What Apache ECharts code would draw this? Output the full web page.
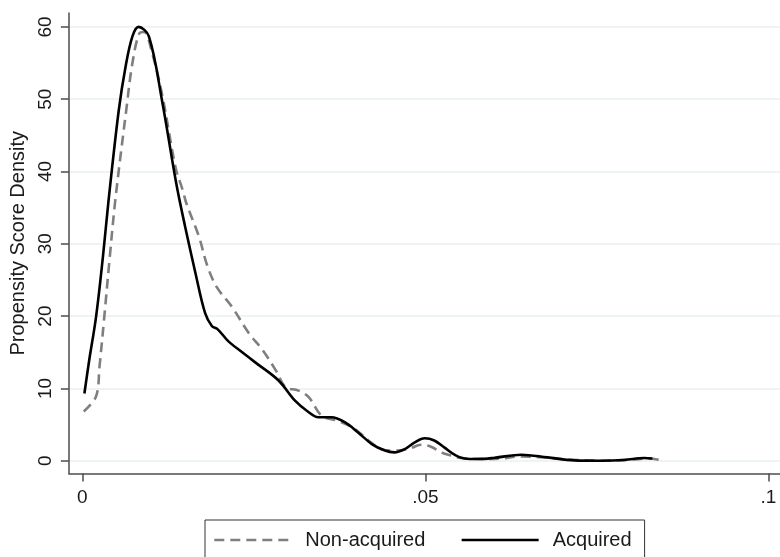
<!DOCTYPE html>
<html>
<head>
<meta charset="utf-8">
<script src="https://cdn.jsdelivr.net/npm/echarts@6/dist/echarts.min.js"></script>
<style>
html,body{margin:0;padding:0;background:#fff;}
#chart{width:780px;height:557px;}
</style>
</head>
<body>
<div id="chart"></div>
<script>
// Non-acquired (dashed) density
const nonAcqX = [0.0002, 0.0020, 0.0025, 0.0032, 0.0040, 0.0048, 0.0064, 0.0073, 0.0083, 0.0090, 0.0102, 0.0117, 0.0136, 0.0146, 0.0152, 0.0170, 0.0182, 0.0196, 0.0218, 0.0243, 0.0262, 0.0282, 0.0296, 0.0315, 0.0330, 0.0349, 0.0373, 0.0397, 0.0417, 0.0436, 0.0455, 0.0475, 0.0494, 0.0509, 0.0523, 0.0538, 0.0552, 0.0580, 0.0610, 0.0640, 0.0680, 0.0720, 0.0760, 0.0800, 0.0825, 0.0845];
const nonAcqY = [6.8, 8.9, 13.0, 19.9, 28.2, 36.0, 48.5, 55.0, 59.1, 59.3, 56.3, 50.3, 40.5, 37.5, 35.5, 31.0, 27.0, 24.0, 21.3, 17.6, 15.4, 12.5, 10.2, 9.7, 8.8, 6.2, 5.5, 4.4, 2.8, 1.6, 1.4, 1.6, 2.2, 1.9, 1.15, 0.7, 0.37, 0.25, 0.3, 0.6, 0.4, 0.1, 0.0, 0.15, 0.3, 0.05];

// Acquired (solid) density
const acqX = [0.0003, 0.0010, 0.0020, 0.0030, 0.0038, 0.0053, 0.0063, 0.0073, 0.0082, 0.0097, 0.0116, 0.0137, 0.0150, 0.0165, 0.0179, 0.0189, 0.0197, 0.0213, 0.0233, 0.0252, 0.0286, 0.0310, 0.0330, 0.0344, 0.0363, 0.0383, 0.0402, 0.0422, 0.0441, 0.0455, 0.0470, 0.0484, 0.0499, 0.0513, 0.0528, 0.0543, 0.0557, 0.0577, 0.0601, 0.0640, 0.0678, 0.0717, 0.0756, 0.0790, 0.0819, 0.0831];
const acqY = [9.3, 13.9, 19.9, 28.2, 35.8, 48.4, 54.5, 58.7, 60.0, 58.7, 49.9, 38.3, 32.3, 25.9, 20.4, 18.6, 18.2, 16.5, 15.0, 13.6, 11.1, 8.3, 6.7, 6.0, 6.0, 5.3, 3.9, 2.3, 1.4, 1.15, 1.6, 2.5, 3.1, 2.8, 1.8, 0.8, 0.3, 0.23, 0.4, 0.83, 0.46, 0.05, 0.0, 0.1, 0.37, 0.3];

const xTicks = [0, 0.05, 0.1];
const xTickLabels = ['0', '.05', '.1'];
const yTicks = [0, 10, 20, 30, 40, 50, 60];

const seriesNames = ['Non-acquired', 'Acquired'];
const yTitle = 'Propensity Score Density';

const pairs = (xs, ys) => xs.map((x, i) => [x, ys[i]]);
const FONT = 'Liberation Sans, Arial, sans-serif';

const chart = echarts.init(document.getElementById('chart'), null, {renderer: 'canvas'});
chart.setOption({
  animation: false,
  backgroundColor: '#ffffff',
  textStyle: {fontFamily: FONT},
  grid: {left: 66, right: 0, top: 13, bottom: 83.5, containLabel: false},
  xAxis: {
    type: 'value',
    min: -0.00196,
    max: 0.1017,
    axisLine: {show: true, onZero: false, lineStyle: {color: '#4d4d4d', width: 1.5}},
    axisTick: {show: true, length: 8, customValues: xTicks, lineStyle: {color: '#4d4d4d', width: 1.5}},
    axisLabel: {
      customValues: xTicks,
      formatter: v => xTickLabels[xTicks.indexOf(v)] !== undefined ? xTickLabels[xTicks.indexOf(v)] : '',
      fontSize: 19, color: '#1a1a1a', margin: 15, fontFamily: FONT
    },
    splitLine: {show: false}
  },
  yAxis: {
    type: 'value',
    min: -1.77,
    max: 61.92,
    name: yTitle,
    nameLocation: 'middle',
    nameGap: 38,
    nameTextStyle: {fontSize: 20, color: '#1a1a1a', fontFamily: FONT},
    axisLine: {show: true, onZero: false, lineStyle: {color: '#4d4d4d', width: 1.5}},
    axisTick: {show: true, length: 8, customValues: yTicks, lineStyle: {color: '#4d4d4d', width: 1.5}},
    axisLabel: {customValues: yTicks, rotate: 90, fontSize: 19, color: '#1a1a1a', margin: 14, fontFamily: FONT},
    splitLine: {show: true, lineStyle: {color: '#e8f1f2', width: 1.5}}
  },
  legend: {
    data: seriesNames,
    left: 205,
    top: 520,
    orient: 'horizontal',
    padding: [10, 13, 20, 8],
    itemWidth: 77,
    itemHeight: 14,
    itemGap: 35,
    borderColor: '#333333',
    borderWidth: 1,
    backgroundColor: '#ffffff',
    itemStyle: {color: 'rgba(0,0,0,0)', borderColor: 'rgba(0,0,0,0)', borderWidth: 0, opacity: 0},
    lineStyle: {width: 2.6},
    textStyle: {fontSize: 20, color: '#1a1a1a', fontFamily: FONT, padding: [0, 0, 0, 9]}
  },
  series: [
    {
      name: seriesNames[0],
      type: 'line',
      data: pairs(nonAcqX, nonAcqY),
      showSymbol: false,
      symbol: 'none',
      smooth: 0.35,
      lineStyle: {color: '#7f7f7f', width: 2.6, type: [10, 6]},
      itemStyle: {color: '#7f7f7f'},
      z: 2
    },
    {
      name: seriesNames[1],
      type: 'line',
      data: pairs(acqX, acqY),
      showSymbol: false,
      symbol: 'none',
      smooth: 0.35,
      lineStyle: {color: '#000000', width: 2.6},
      itemStyle: {color: '#000000'},
      z: 3
    }
  ]
});
</script>
</body>
</html>
